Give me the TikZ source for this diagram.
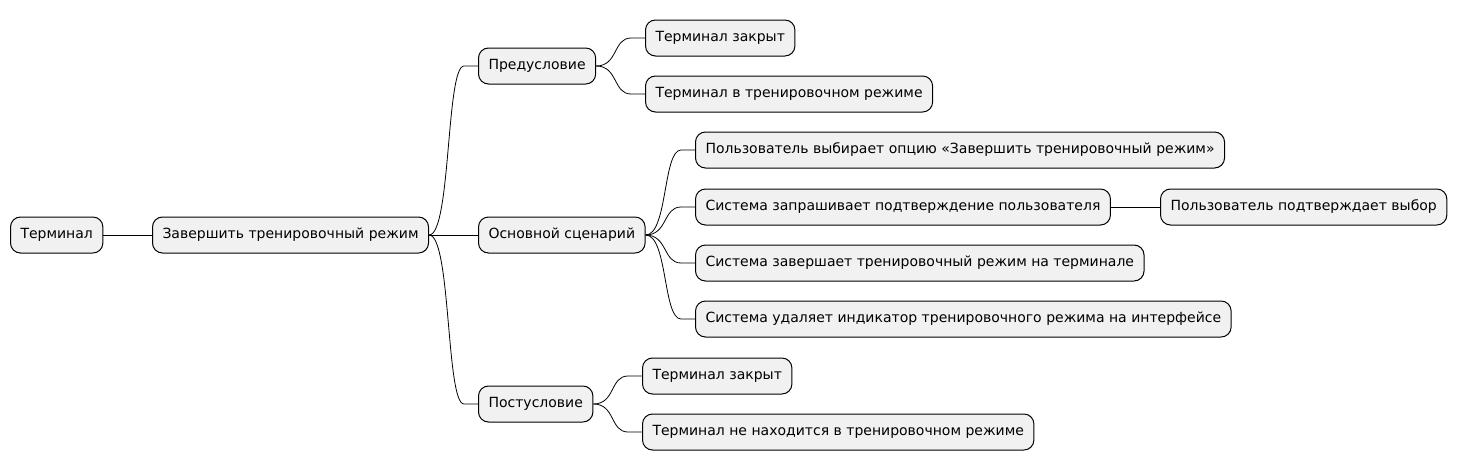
\documentclass[tikz,border=0pt]{standalone}
\usepackage{fontspec}
\setmainfont{DejaVu Sans}
\usetikzlibrary{positioning}
\definecolor{gray1}{HTML}{F1F1F1}

\begin{document}
\begin{tikzpicture}[x=1pt, y=-1pt]
    \tikzstyle{topic} = [draw=black, fill=gray1, line width=1pt, rounded corners=10pt,
                         minimum height=36pt, inner xsep=10pt, anchor=west, font=\fontsize{14}{16}\selectfont]
    \tikzstyle{branch} = [line width=0.8pt, to path={.. controls +(22,0) and +(-18,0) .. ([xshift=-14pt]\tikztotarget) -- (\tikztotarget)}]
    \tikzstyle{straight} = [line width=0.8pt]
    \useasboundingbox (0,0) rectangle (1457,471);

    \node[topic] (term)      at (10,235)  {Терминал};
    \node[topic] (finish)    at (152,235) {Завершить тренировочный режим};
    \node[topic] (pre)       at (478,66)  {Предусловие};
    \node[topic] (pre_a)     at (645,38)  {Терминал закрыт};
    \node[topic] (pre_b)     at (645,94)  {Терминал в тренировочном режиме};
    \node[topic] (main)      at (478,235) {Основной сценарий};
    \node[topic] (main_a)    at (695,150) {Пользователь выбирает опцию «Завершить тренировочный режим»};
    \node[topic] (main_b)    at (695,207) {Система запрашивает подтверждение пользователя};
    \node[topic] (main_b1)   at (1160,207) {Пользователь подтверждает выбор};
    \node[topic] (main_c)    at (695,263) {Система завершает тренировочный режим на терминале};
    \node[topic] (main_d)    at (695,319) {Система удаляет индикатор тренировочного режима на интерфейсе};
    \node[topic] (post)      at (478,404) {Постусловие};
    \node[topic] (post_a)    at (642,376) {Терминал закрыт};
    \node[topic] (post_b)    at (642,432) {Терминал не находится в тренировочном режиме};

    \path (term.east)     edge[straight]  (finish.west)
          (finish.east)   edge[branch]    (pre.west)
          (finish.east)   edge[straight]  (main.west)
          (finish.east)   edge[branch]    (post.west)
          (pre.east)      edge[branch]    (pre_a.west)
          (pre.east)      edge[branch]    (pre_b.west)
          (main.east)     edge[branch]    (main_a.west)
          (main.east)     edge[branch]    (main_b.west)
          (main.east)     edge[branch]    (main_c.west)
          (main.east)     edge[branch]    (main_d.west)
          (main_b.east)   edge[straight]  (main_b1.west)
          (post.east)     edge[branch]    (post_a.west)
          (post.east)     edge[branch]    (post_b.west);

\end{tikzpicture}
\end{document}
